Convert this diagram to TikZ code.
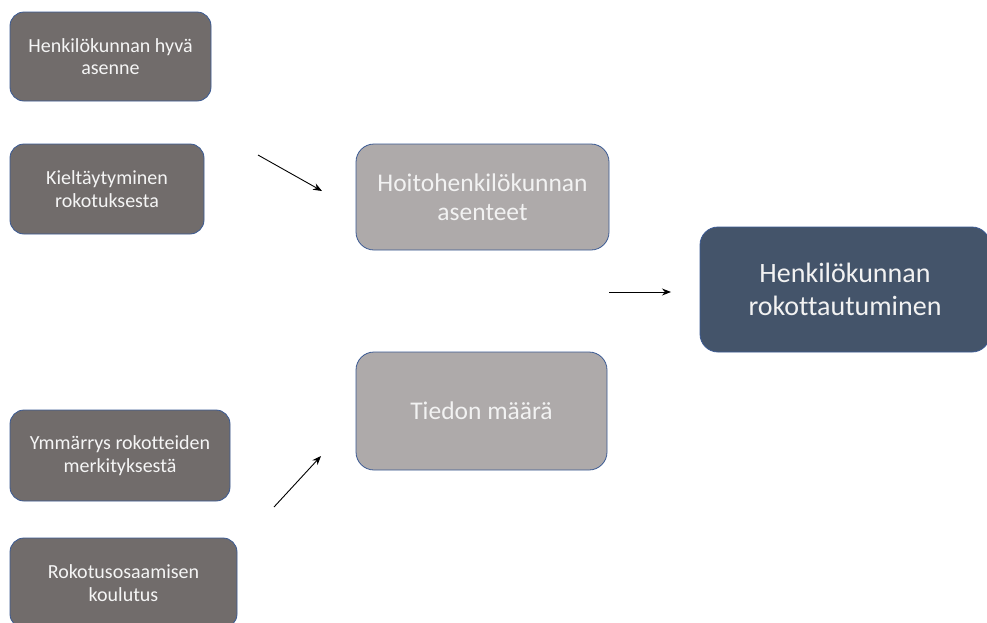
\documentclass[tikz,border=0pt]{standalone}
\usepackage{fontspec}
\setmainfont[Ligatures={NoCommon}]{Carlito}
\usetikzlibrary{arrows.meta}
\definecolor{darkbox}{HTML}{716C6B}
\definecolor{lightbox}{HTML}{AEAAAA}
\definecolor{bluebox}{HTML}{44546A}
\definecolor{edge}{HTML}{3B5A93}
\begin{document}
\begin{tikzpicture}[x=1pt,y=-1pt,
  boxbase/.style={draw=edge,line width=0.8pt,rounded corners=14pt,text=white,align=center,inner sep=0pt},
  smallbox/.style={boxbase,fill=darkbox,text=white!96!black,font=\fontsize{20}{22.5}\selectfont},
  midbox/.style={boxbase,fill=lightbox,rounded corners=18pt,text=white!95!black,font=\fontsize{25.5}{29}\selectfont},
  bigbox/.style={boxbase,fill=bluebox,rounded corners=18pt,text=white!95!black,font=\fontsize{28}{33}\selectfont},
  conn/.style={-{Stealth[length=9pt,width=7pt]},line width=0.9pt,black}]
\useasboundingbox (0,0) rectangle (987,622);
\path[fill=white] (0,0) rectangle (987,622);
\node[smallbox,minimum width=201pt,minimum height=89pt] (a) at (110.5,56.5) {Henkilökunnan hyvä\\asenne};
\node[smallbox,minimum width=194pt,minimum height=90pt] (b) at (107,189) {Kieltäytyminen\\rokotuksesta};
\node[smallbox,minimum width=220pt,minimum height=91pt] (c) at (120,455.5) {Ymmärrys rokotteiden\\merkityksestä};
\node[smallbox,minimum width=227pt,minimum height=90pt] (d) at (123.5,583) {Rokotusosaamisen\\koulutus};
\node[midbox,minimum width=253pt,minimum height=106pt] (e) at (482.5,197) {Hoitohenkilökunnan\\asenteet};
\node[midbox,minimum width=251pt,minimum height=118pt] (f) at (481.5,411) {Tiedon määrä};
\node[bigbox,minimum width=290pt,minimum height=125pt] (g) at (845,289.5) {Henkilökunnan\\rokottautuminen};
\coordinate (p1) at (258,155);
\coordinate (q1) at (322,191);
\coordinate (p2) at (609,292);
\coordinate (q2) at (671,292);
\coordinate (p3) at (274,507);
\coordinate (q3) at (321,456);
\draw[conn] (p1) -- (q1);
\draw[conn] (p2) -- (q2);
\draw[conn] (p3) -- (q3);
\end{tikzpicture}
\end{document}
